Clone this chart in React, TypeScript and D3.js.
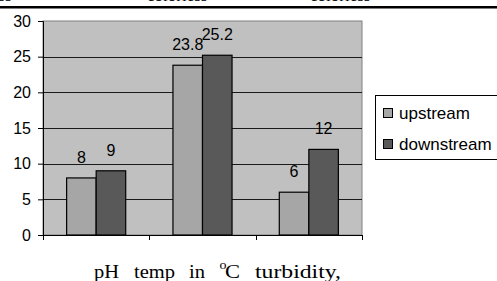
import * as d3 from "d3";
import { useEffect, useRef } from "react";

const categories = ["pH", "temp", "turbidity"];
const seriesNames = ["upstream", "downstream"];
const upstream = [8, 23.8, 6];
const downstream = [9, 25.2, 12];
const yTicks = [0, 5, 10, 15, 20, 25, 30];
const colors = ["#a6a6a6", "#595959"];

export default function App() {
  const svgRef = useRef<SVGSVGElement | null>(null);
  const width = 497;
  const height = 281;

  useEffect(() => {
    const svg = d3.select(svgRef.current);
    svg.selectAll("*").remove();

    const left = 43;
    const right = 362;
    const top = 21;
    const bottom = 235;

    const y = d3.scaleLinear().domain([0, 30]).range([bottom, top]);
    const x0 = d3.scaleBand().domain(categories).range([left, right]).padding(0);
    const x1 = d3
      .scaleBand()
      .domain(seriesNames)
      .range([0, x0.bandwidth()])
      .paddingInner(0)
      .paddingOuter(0.8);

    // clipped caption row of the table above + rule
    const cap = svg.append("g").attr("font-family", "Liberation Serif, Times New Roman, serif").attr("font-size", 17);
    cap.append("text").attr("x", -14).attr("y", 1).text("less");
    cap.append("text").attr("x", 147).attr("y", 1).text("colorless");
    cap.append("text").attr("x", 310).attr("y", 1).text("colorless");
    svg.append("rect").attr("x", 0).attr("y", 6).attr("width", width).attr("height", 2.5).attr("fill", "#000");

    // plot area
    svg
      .append("rect")
      .attr("x", left)
      .attr("y", top)
      .attr("width", right - left)
      .attr("height", bottom - top)
      .attr("fill", "#c0c0c0")
      .attr("stroke", "#808080")
      .attr("stroke-width", 1);

    svg
      .append("g")
      .selectAll("line")
      .data(yTicks.filter((t) => t > 0 && t < 30))
      .join("line")
      .attr("x1", left)
      .attr("x2", right)
      .attr("y1", (d) => Math.round(y(d)) + 0.5)
      .attr("y2", (d) => Math.round(y(d)) + 0.5)
      .attr("stroke", "#1a1a1a");

    const data = categories.map((c, i) => ({ cat: c, vals: [upstream[i], downstream[i]] }));
    const groups = svg
      .append("g")
      .selectAll("g")
      .data(data)
      .join("g")
      .attr("transform", (d) => `translate(${x0(d.cat)},0)`);

    groups
      .selectAll("rect")
      .data((d) => d.vals.map((v, j) => ({ key: seriesNames[j], v, j })))
      .join("rect")
      .attr("x", (d) => x1(d.key)!)
      .attr("y", (d) => y(d.v))
      .attr("width", x1.bandwidth())
      .attr("height", (d) => bottom - y(d.v))
      .attr("fill", (d) => colors[d.j])
      .attr("stroke", "#000")
      .attr("stroke-width", 1.2);

    groups
      .selectAll("text")
      .data((d) => d.vals.map((v, j) => ({ key: seriesNames[j], v })))
      .join("text")
      .attr("x", (d) => x1(d.key)! + x1.bandwidth() / 2)
      .attr("y", (d) => y(d.v) - 15)
      .attr("text-anchor", "middle")
      .attr("font-family", "Liberation Sans, Arial, sans-serif")
      .attr("font-size", 16)
      .text((d) => String(d.v));

    // y axis
    const yAxis = svg
      .append("g")
      .attr("transform", `translate(${left},0)`)
      .call(d3.axisLeft(y).tickValues(yTicks).tickSize(5).tickPadding(7));
    yAxis.select(".domain").attr("stroke", "#000");
    yAxis.selectAll(".tick line").attr("stroke", "#000");
    yAxis
      .selectAll("text")
      .attr("font-family", "Liberation Sans, Arial, sans-serif")
      .attr("font-size", 16)
      .attr("fill", "#000");

    // x axis: ticks at band boundaries
    svg
      .append("line")
      .attr("x1", left)
      .attr("x2", right)
      .attr("y1", bottom + 0.5)
      .attr("y2", bottom + 0.5)
      .attr("stroke", "#000");
    const bounds = [...categories.map((c) => x0(c)!), right];
    svg
      .append("g")
      .selectAll("line")
      .data(bounds)
      .join("line")
      .attr("x1", (d) => Math.round(d) + 0.5)
      .attr("x2", (d) => Math.round(d) + 0.5)
      .attr("y1", bottom)
      .attr("y2", bottom + 5)
      .attr("stroke", "#000");

    // legend
    const lg = svg.append("g").attr("transform", "translate(375.5,95.5)");
    lg.append("rect").attr("width", 122).attr("height", 64).attr("fill", "#fff").attr("stroke", "#000");
    seriesNames.forEach((s, i) => {
      const yy = 17 + i * 31;
      lg.append("rect")
        .attr("x", 8)
        .attr("y", yy - 4)
        .attr("width", 9)
        .attr("height", 9)
        .attr("fill", colors[i])
        .attr("stroke", "#000");
      lg.append("text")
        .attr("x", 23.5)
        .attr("y", yy + 6)
        .attr("font-family", "Liberation Sans, Arial, sans-serif")
        .attr("font-size", 17)
        .text(s);
    });

    // bottom caption line (Times)
    const bt = svg.append("g").attr("font-family", "Liberation Serif, Times New Roman, serif").attr("font-size", 19);
    const word = (x: number, yy: number, t: string, len: number, fs = 19) =>
      bt
        .append("text")
        .attr("x", x)
        .attr("y", yy)
        .attr("font-size", fs)
        .attr("textLength", len)
        .attr("lengthAdjust", "spacingAndGlyphs")
        .text(t);
    word(94, 278, "pH", 25);
    word(134, 278, "temp", 41);
    word(189, 278, "in", 16);
    word(219.5, 269, "o", 7, 12);
    word(225, 278, "C", 15);
    word(255, 278, "turbidity,", 86);
  }, []);

  return (
    <svg
      ref={svgRef}
      width={width}
      height={height}
      style={{ position: "absolute", left: 0, top: 0, background: "#fff" }}
    ></svg>
  );
}
